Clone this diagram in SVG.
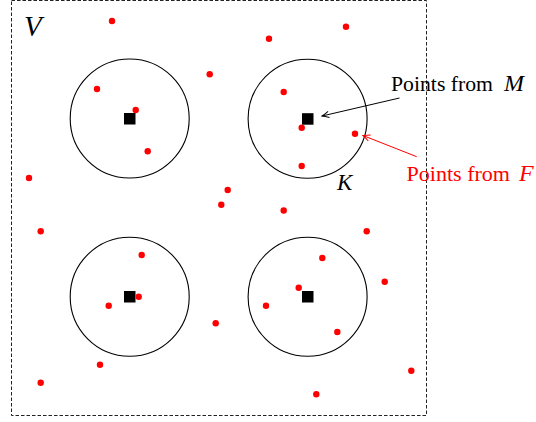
<svg xmlns="http://www.w3.org/2000/svg" width="536" height="422" viewBox="0 0 536 422">
<defs>
<style>
.frame{fill:none;stroke:#222;stroke-width:1;stroke-dasharray:3.5 2}
.disk{fill:none;stroke:#000;stroke-width:1.1}
.sq{fill:#000}
.pt{fill:#ff0000}
.serif{font-family:'Liberation Serif','DejaVu Serif','Times New Roman',serif}
.it{font-style:italic}
</style>
<marker id="ahB" viewBox="-8 -4 9 8" refX="0" refY="0" markerWidth="9" markerHeight="8" markerUnits="userSpaceOnUse" orient="auto">
<path d="M-7,-3.2 Q-2.5,-0.8 0,0 Q-2.5,0.8 -7,3.2" fill="none" stroke="#000" stroke-width="1"/>
</marker>
<marker id="ahR" viewBox="-8 -4 9 8" refX="0" refY="0" markerWidth="9" markerHeight="8" markerUnits="userSpaceOnUse" orient="auto">
<path d="M-7,-3.2 Q-2.5,-0.8 0,0 Q-2.5,0.8 -7,3.2" fill="none" stroke="#ff0000" stroke-width="1"/>
</marker>
</defs>
<rect width="536" height="422" fill="#fff"/>
<rect class="frame" x="11.5" y="0.5" width="415" height="415"/>
<text class="serif it" x="24" y="36" font-size="29">V</text>

<g id="disk1"><circle class="disk" cx="129.7" cy="118.5" r="59.5"/><rect class="sq" x="124" y="113" width="11.5" height="11.5"/></g>
<g id="disk2"><circle class="disk" cx="307.6" cy="118.7" r="59.5"/><rect class="sq" x="302" y="113.2" width="11.5" height="11.5"/></g>
<g id="disk3"><circle class="disk" cx="129.7" cy="296.7" r="59.5"/><rect class="sq" x="124" y="291" width="11.5" height="11.5"/></g>
<g id="disk4"><circle class="disk" cx="307.6" cy="296.7" r="59.5"/><rect class="sq" x="302" y="291" width="11.5" height="11.5"/></g>

<g id="points">
<circle class="pt" cx="112" cy="21" r="3.2"/>
<circle class="pt" cx="209.7" cy="74.3" r="3.2"/>
<circle class="pt" cx="97" cy="89" r="3.2"/>
<circle class="pt" cx="135.7" cy="110" r="3.2"/>
<circle class="pt" cx="147.7" cy="151.3" r="3.2"/>
<circle class="pt" cx="29" cy="178" r="3.2"/>
<circle class="pt" cx="227.7" cy="190" r="3.2"/>
<circle class="pt" cx="221.3" cy="204.7" r="3.2"/>
<circle class="pt" cx="269" cy="38.7" r="3.2"/>
<circle class="pt" cx="346" cy="26.7" r="3.2"/>
<circle class="pt" cx="283.7" cy="92" r="3.2"/>
<circle class="pt" cx="301.7" cy="127.7" r="3.2"/>
<circle class="pt" cx="355" cy="133.7" r="3.2"/>
<circle class="pt" cx="301.7" cy="166" r="3.2"/>
<circle class="pt" cx="283.7" cy="210.5" r="3.2"/>
<circle class="pt" cx="40.7" cy="231.3" r="3.2"/>
<circle class="pt" cx="141.7" cy="255" r="3.2"/>
<circle class="pt" cx="138.7" cy="296.7" r="3.2"/>
<circle class="pt" cx="108.7" cy="305.7" r="3.2"/>
<circle class="pt" cx="215.7" cy="323.3" r="3.2"/>
<circle class="pt" cx="100" cy="364.7" r="3.2"/>
<circle class="pt" cx="40.7" cy="382.7" r="3.2"/>
<circle class="pt" cx="366.7" cy="231.3" r="3.2"/>
<circle class="pt" cx="322.3" cy="258" r="3.2"/>
<circle class="pt" cx="384.7" cy="281.7" r="3.2"/>
<circle class="pt" cx="298.7" cy="287.7" r="3.2"/>
<circle class="pt" cx="266" cy="305.7" r="3.2"/>
<circle class="pt" cx="337.3" cy="332" r="3.2"/>
<circle class="pt" cx="411.3" cy="370.7" r="3.2"/>
<circle class="pt" cx="316.3" cy="394.3" r="3.2"/>
</g>

<g id="connectors">
<line x1="399.5" y1="98" x2="322" y2="116" stroke="#000" stroke-width="1" marker-end="url(#ahB)"/>
<line x1="416.7" y1="156.7" x2="363" y2="135.5" stroke="#ff0000" stroke-width="1" marker-end="url(#ahR)"/>
</g>

<g id="label-M" class="serif">
<text x="391" y="91" font-size="22" textLength="102" lengthAdjust="spacingAndGlyphs">Points from</text>
<text class="it" x="504" y="91" font-size="24">M</text>
</g>
<g id="label-F" class="serif" fill="#ff0000">
<text x="406.5" y="181" font-size="22" textLength="103.5" lengthAdjust="spacingAndGlyphs">Points from</text>
<text class="it" x="519" y="181" font-size="24">F</text>
</g>
<text class="serif it" x="337" y="190" font-size="23">K</text>
</svg>
